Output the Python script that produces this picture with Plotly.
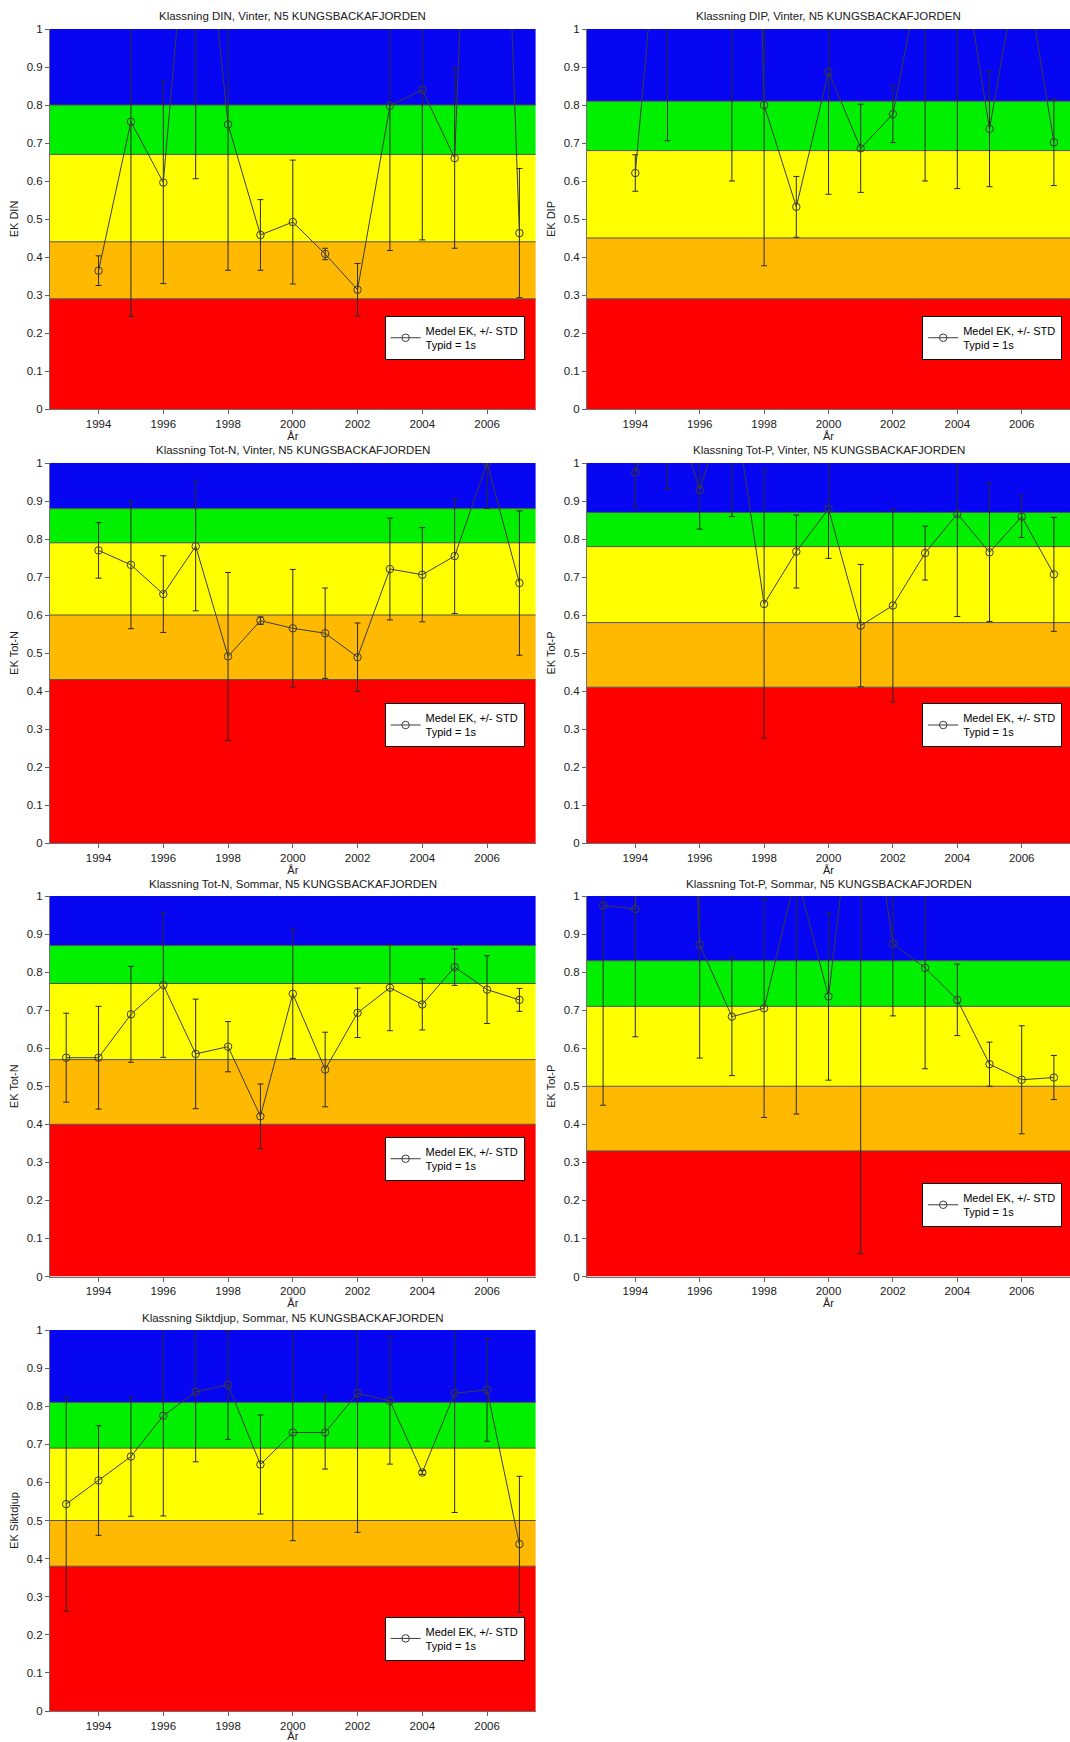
import plotly.graph_objects as go

# ---------------- data ----------------
years_a = [1994, 1995, 1996, 1997, 1998, 1999, 2000, 2001, 2002, 2003, 2004, 2005, 2006, 2007]
years_b = [1993, 1994, 1995, 1996, 1997, 1998, 1999, 2000, 2001, 2002, 2003, 2004, 2005, 2006, 2007]

titles = [
    "Klassning DIN, Vinter, N5 KUNGSBACKAFJORDEN",
    "Klassning DIP, Vinter, N5 KUNGSBACKAFJORDEN",
    "Klassning Tot-N, Vinter, N5 KUNGSBACKAFJORDEN",
    "Klassning Tot-P, Vinter, N5 KUNGSBACKAFJORDEN",
    "Klassning Tot-N, Sommar, N5 KUNGSBACKAFJORDEN",
    "Klassning Tot-P, Sommar, N5 KUNGSBACKAFJORDEN",
    "Klassning Siktdjup, Sommar, N5 KUNGSBACKAFJORDEN",
]
ylabels = ["EK DIN", "EK DIP", "EK Tot-N", "EK Tot-P", "EK Tot-N", "EK Tot-P", "EK Siktdjup"]

din_vinter_mean = [0.364, 0.756, 0.596, 1.57, 0.749, 0.458, 0.492, 0.408, 0.314, 0.798, 0.840, 0.660, 2.8, 0.463]
din_vinter_std = [0.039, 0.512, 0.266, 0.964, 0.384, 0.093, 0.163, 0.015, 0.069, 0.381, 0.395, 0.237, 1.2, 0.170]

dip_vinter_mean = [0.621, 1.44, 2.5, 4.1, 0.800, 0.532, 0.887, 0.686, 0.776, 1.21, 1.27, 0.737, 1.22, 0.702]
dip_vinter_std = [0.048, 0.734, 1.0, 3.5, 0.423, 0.080, 0.322, 0.116, 0.075, 0.61, 0.69, 0.152, 0.12, 0.114]

totn_vinter_mean = [0.770, 0.732, 0.655, 0.781, 0.491, 0.585, 0.565, 0.552, 0.489, 0.721, 0.706, 0.755, 1.0, 0.684]
totn_vinter_std = [0.073, 0.168, 0.101, 0.170, 0.221, 0.010, 0.155, 0.119, 0.090, 0.134, 0.124, 0.151, 0.12, 0.190]

totp_vinter_mean = [0.975, 1.2, 0.929, 1.2, 0.629, 0.767, 0.879, 0.572, 0.625, 0.763, 0.866, 0.765, 0.859, 0.707]
totp_vinter_std = [0.093, 0.27, 0.103, 0.341, 0.353, 0.096, 0.130, 0.161, 0.254, 0.071, 0.270, 0.182, 0.055, 0.150]

totn_sommar_mean = [0.575, 0.575, 0.689, 0.766, 0.585, 0.604, 0.421, 0.743, 0.544, 0.693, 0.759, 0.715, 0.813, 0.754, 0.727]
totn_sommar_std = [0.117, 0.135, 0.126, 0.190, 0.144, 0.066, 0.085, 0.170, 0.098, 0.065, 0.113, 0.067, 0.048, 0.089, 0.030]

totp_sommar_mean = [0.975, 0.966, 3.0, 0.872, 0.683, 0.705, 1.06, 0.736, 1.45, 0.875, 0.811, 0.727, 0.558, 0.517, 0.523]
totp_sommar_std = [0.525, 0.336, 1.0, 0.298, 0.155, 0.287, 0.633, 0.220, 1.39, 0.190, 0.265, 0.094, 0.058, 0.142, 0.058]

sikt_sommar_mean = [0.543, 0.605, 0.668, 0.775, 0.838, 0.856, 0.647, 0.731, 0.731, 0.834, 0.814, 0.626, 0.834, 0.843, 0.438]
sikt_sommar_std = [0.281, 0.144, 0.157, 0.263, 0.184, 0.143, 0.130, 0.284, 0.096, 0.365, 0.166, 0.005, 0.313, 0.135, 0.178]

# class boundaries (red, orange, yellow, green, blue)
bands_din_vinter = [0, 0.29, 0.44, 0.67, 0.80, 1]
bands_dip_vinter = [0, 0.29, 0.45, 0.68, 0.81, 1]
bands_totn_vinter = [0, 0.43, 0.60, 0.79, 0.88, 1]
bands_totp_vinter = [0, 0.41, 0.58, 0.78, 0.87, 1]
bands_totn_sommar = [0, 0.40, 0.57, 0.77, 0.87, 1]
bands_totp_sommar = [0, 0.33, 0.50, 0.71, 0.83, 1]
bands_sikt_sommar = [0, 0.38, 0.50, 0.69, 0.81, 1]

xtick_vals = [1994, 1996, 1998, 2000, 2002, 2004, 2006]
ytick_vals = [0, 0.1, 0.2, 0.3, 0.4, 0.5, 0.6, 0.7, 0.8, 0.9, 1]
ytick_text = ["0", "0.1", "0.2", "0.3", "0.4", "0.5", "0.6", "0.7", "0.8", "0.9", "1"]

legend_name = "Medel EK, +/- STD<br>Typid = 1s"

panels = [
    (years_a, din_vinter_mean, din_vinter_std, bands_din_vinter),
    (years_a, dip_vinter_mean, dip_vinter_std, bands_dip_vinter),
    (years_a, totn_vinter_mean, totn_vinter_std, bands_totn_vinter),
    (years_a, totp_vinter_mean, totp_vinter_std, bands_totp_vinter),
    (years_b, totn_sommar_mean, totn_sommar_std, bands_totn_sommar),
    (years_b, totp_sommar_mean, totp_sommar_std, bands_totp_sommar),
    (years_b, sikt_sommar_mean, sikt_sommar_std, bands_sikt_sommar),
]

band_colors = ["#FF0000", "#FFB900", "#FFFF00", "#00F000", "#0606F2"]

# ---------------- layout geometry ----------------
W, H = 1070, 1742
col_px = [(50, 535.6), (587, 1070)]
row_px = [(29, 409), (463, 843), (896, 1276.5), (1330, 1711)]
title_px = [16, 450, 884, 1318]
pos = [(0, 0), (0, 1), (1, 0), (1, 1), (2, 0), (2, 1), (3, 0)]
legend_fy = [0.187, 0.187, 0.31, 0.31, 0.309, 0.188, 0.19]
legend_fx = [0.689, 0.694]

FONT = "Liberation Sans, Arial, sans-serif"

fig = go.Figure()
layout = dict(
    width=W, height=H, autosize=False,
    margin=dict(l=0, r=0, t=0, b=0, pad=0, autoexpand=False),
    paper_bgcolor="white", plot_bgcolor="white",
    font=dict(family=FONT, size=11, color="#202020"),
    shapes=[], annotations=[],
)

for i, (yrs, mean, std, bands) in enumerate(panels):
    k = i + 1
    r, c = pos[i]
    xd = [col_px[c][0] / W, col_px[c][1] / W]
    yd = [1 - row_px[r][1] / H, 1 - row_px[r][0] / H]
    xa = "x" if k == 1 else f"x{k}"
    ya = "y" if k == 1 else f"y{k}"
    lg = "legend" if k == 1 else f"legend{k}"
    xan = "xaxis" if k == 1 else f"xaxis{k}"
    yan = "yaxis" if k == 1 else f"yaxis{k}"

    fig.add_trace(go.Scatter(
        x=yrs, y=mean,
        error_y=dict(type="data", array=std, visible=True, color="#2a2a2a", thickness=1, width=3),
        mode="lines+markers",
        line=dict(color="#3c3c3c", width=1),
        marker=dict(symbol="circle-open", size=7.5, color="#3c3c3c", line=dict(width=1)),
        name=legend_name, xaxis=xa, yaxis=ya, legend=lg, showlegend=True,
        hoverinfo="skip",
    ))

    for b in range(5):
        layout["shapes"].append(dict(
            type="rect", xref=f"{xa} domain", x0=0, x1=1, yref=ya,
            y0=bands[b], y1=bands[b + 1], fillcolor=band_colors[b],
            line=dict(width=0), layer="below",
        ))
    for b in range(1, 5):
        layout["shapes"].append(dict(
            type="line", xref=f"{xa} domain", x0=0, x1=1, yref=ya,
            y0=bands[b], y1=bands[b], line=dict(color="#505050", width=1), layer="below",
        ))

    layout[xan] = dict(
        domain=xd, anchor=ya, range=[1992.5, 2007.5], automargin=False,
        tickvals=xtick_vals, ticks="outside", ticklen=4, tickcolor="#606060",
        showline=True, linecolor="#707070", linewidth=1,
        showgrid=False, zeroline=False, fixedrange=True,
        tickfont=dict(size=11.5),
        title=dict(text="År", standoff=1, font=dict(size=11)),
    )
    layout[yan] = dict(
        domain=yd, anchor=xa, range=[0, 1], automargin=False,
        tickvals=ytick_vals, ticktext=ytick_text, ticks="outside", ticklen=4, tickcolor="#606060",
        showline=True, linecolor="#707070", linewidth=1,
        showgrid=False, zeroline=False, fixedrange=True,
        tickfont=dict(size=11.5),
        title=dict(text=ylabels[i], standoff=5, font=dict(size=11)),
    )
    layout[lg] = dict(
        x=xd[0] + legend_fx[c] * (xd[1] - xd[0]),
        y=yd[0] + legend_fy[i] * (yd[1] - yd[0]),
        xanchor="left", yanchor="middle",
        bgcolor="white", bordercolor="black", borderwidth=1,
        font=dict(size=11, color="black"),
        itemclick=False, itemdoubleclick=False,
    )
    layout["annotations"].append(dict(
        text=titles[i], xref="paper", yref="paper",
        x=(xd[0] + xd[1]) / 2, y=1 - title_px[r] / H,
        xanchor="center", yanchor="middle", showarrow=False,
        font=dict(size=11.5, color="#202020"),
    ))

fig.update_layout(**layout)
fig.write_html(
    "out.html",
    config={"displayModeBar": False, "responsive": False},
    post_script="document.body.style.margin='0';document.body.style.overflow='hidden';",
)
